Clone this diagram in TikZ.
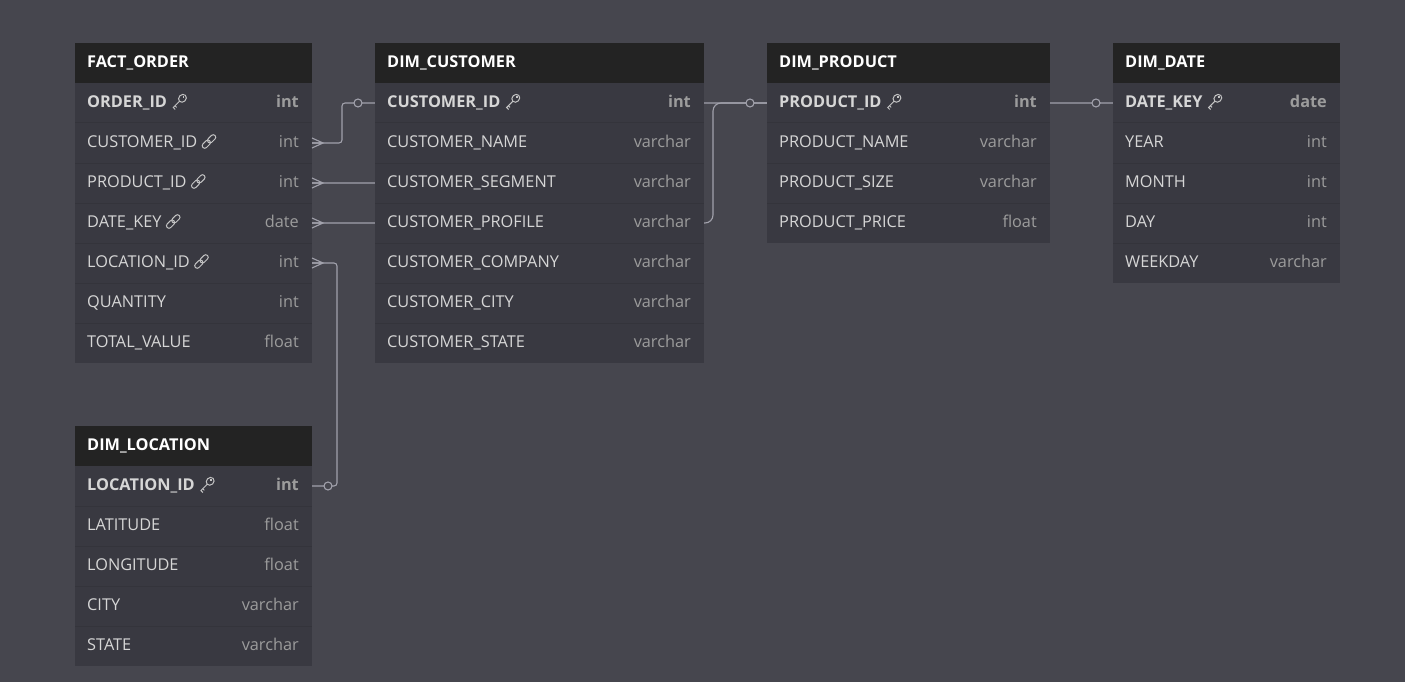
\documentclass[tikz,border=0pt]{standalone}
\usepackage{fontspec}
\setmainfont{Open Sans}
\usetikzlibrary{positioning}

\definecolor{canvasbg}{HTML}{46464E}
\definecolor{rowbg}{HTML}{393941}
\definecolor{rowline}{HTML}{34343B}
\definecolor{headbg}{HTML}{232323}
\definecolor{nametxt}{HTML}{D6D6D6}
\definecolor{typetxt}{HTML}{9C9C9C}
\definecolor{iconclr}{HTML}{C4C4C4}
\definecolor{linkln}{HTML}{A2A2AC}

\pgfdeclarelayer{bglayer}
\pgfdeclarelayer{linklayer}
\pgfsetlayers{bglayer,linklayer,main}

\tikzset{
  tblhead/.style={fill=headbg, draw=none, minimum height=40, inner sep=0, outer sep=0, anchor=north west},
  tblrow/.style={fill=rowbg, draw=none, minimum height=40, inner sep=0, outer sep=0},
  headtxt/.style={anchor=base west, inner sep=0, text=white, font=\fontsize{16.3}{19}\selectfont\bfseries},
  colname/.style={anchor=base west, inner sep=0, text=nametxt, font=\fontsize{16.3}{19}\selectfont},
  coltype/.style={anchor=base east, inner sep=0, text=typetxt, font=\fontsize{16.3}{19}\selectfont},
  relline/.style={draw=linkln, line width=1.1},
  pics/keyicon/.style={code={
    \begin{scope}[rotate=45, draw=iconclr, line width=1]
      \draw (4.5,0) ellipse (4.2 and 3.6);
      \draw (6,0) circle (0.7);
      \draw (0.3,0) -- (-8.5,0) -- (-8.5,2.8);
      \draw (-6,0) -- (-6,2.3);
    \end{scope}}},
  pics/linkicon/.style={code={
    \begin{scope}[rotate=45, draw=iconclr, line width=1]
      \draw[rounded corners=2.4] (-8.5,-2.5) rectangle (1,2.5);
      \draw[rounded corners=2.4] (-1,-2.5) rectangle (8.5,2.5);
    \end{scope}}}
}

% #1 id, #2/#3 top left, #4 width, #5 title, #6 rows name/type/flag
\newcommand{\erdtable}[6]{%
  \node[tblhead, minimum width=#4] (#1-0) at (#2,#3) {};
  \node[headtxt] at ([xshift=12,yshift=-4.3]#1-0.west) {#5};
  \foreach \cname/\ctype/\cflag [count=\i] in {#6}{
    \pgfmathtruncatemacro\prev{\i-1}
    \node[tblrow, minimum width=#4, below=0pt of #1-\prev] (#1-\i) {};
    \ifnum\i>1 \draw[rowline, line width=1] (#1-\i.north west) -- (#1-\i.north east);\fi
    \ifnum\cflag=1 \def\cfont{\bfseries}\else\def\cfont{}\fi
    \node[colname] (#1-\i n) at ([xshift=12,yshift=-4.5]#1-\i.west) {\cfont\cname};
    \node[coltype] (#1-\i t) at ([xshift=-13,yshift=-4.5]#1-\i.east) {\cfont\ctype};
    \ifnum\cflag=1 \pic at ([xshift=12,yshift=6]#1-\i n.base east) {keyicon};\fi
    \ifnum\cflag=2 \pic at ([xshift=11.5,yshift=6]#1-\i n.base east) {linkicon};\fi
  }%
}

% crow's foot on the many side
\newcommand{\crowfoot}[1]{%
  \draw[relline] ([yshift=5]#1) -- ([xshift=11]#1) -- ([yshift=-5]#1)
    (#1) -- ([xshift=11]#1);}

\begin{document}
\begin{tikzpicture}[x=1pt,y=-1pt]
  \begin{pgfonlayer}{bglayer}
    \fill[canvasbg] (0,0) rectangle (1405,682);
  \end{pgfonlayer}
  \useasboundingbox (0,0) rectangle (1405,682);

  \erdtable{fo}{75}{43}{237}{FACT\_ORDER}{ORDER\_ID/int/1, CUSTOMER\_ID/int/2,
    PRODUCT\_ID/int/2, DATE\_KEY/date/2, LOCATION\_ID/int/2, QUANTITY/int/0,
    TOTAL\_VALUE/float/0}
  \erdtable{cu}{375}{43}{329}{DIM\_CUSTOMER}{CUSTOMER\_ID/int/1,
    CUSTOMER\_NAME/varchar/0, CUSTOMER\_SEGMENT/varchar/0, CUSTOMER\_PROFILE/varchar/0,
    CUSTOMER\_COMPANY/varchar/0, CUSTOMER\_CITY/varchar/0, CUSTOMER\_STATE/varchar/0}
  \erdtable{pr}{767}{43}{283}{DIM\_PRODUCT}{PRODUCT\_ID/int/1,
    PRODUCT\_NAME/varchar/0, PRODUCT\_SIZE/varchar/0, PRODUCT\_PRICE/float/0}
  \erdtable{da}{1113}{43}{227}{DIM\_DATE}{DATE\_KEY/date/1, YEAR/int/0,
    MONTH/int/0, DAY/int/0, WEEKDAY/varchar/0}
  \erdtable{lo}{75}{426}{237}{DIM\_LOCATION}{LOCATION\_ID/int/1,
    LATITUDE/float/0, LONGITUDE/float/0, CITY/varchar/0, STATE/varchar/0}

  % relations, under the tables
  \begin{pgfonlayer}{linklayer}
    \draw[relline, rounded corners=3] (fo-2.east) -- ++(30,0) |- (cu-1.west);
    \draw[relline, rounded corners=8] (fo-3.east) -- ++(228,0)
      |- ([xshift=9]cu-4.east) |- (pr-1.west);
    \draw[relline, rounded corners=3] (fo-4.east) -- ++(228,0) |- (da-1.west);
    \draw[relline, rounded corners=3] (fo-5.east) -- ++(25,0) |- (lo-1.east);
  \end{pgfonlayer}

  \crowfoot{fo-2.east}
  \crowfoot{fo-3.east}
  \crowfoot{fo-4.east}
  \crowfoot{fo-5.east}
  \draw[relline, fill=canvasbg] ([xshift=-17]cu-1.west) circle (4);
  \draw[relline, fill=canvasbg] ([xshift=-17]pr-1.west) circle (4);
  \draw[relline, fill=canvasbg] ([xshift=-17]da-1.west) circle (4);
  \draw[relline, fill=canvasbg] ([xshift=16]lo-1.east) circle (4);
\end{tikzpicture}
\end{document}
